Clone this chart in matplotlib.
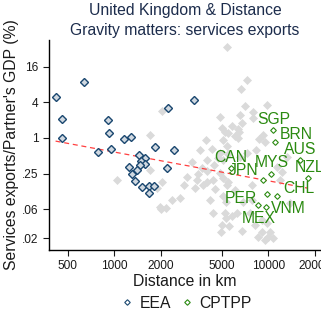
import numpy as np
import matplotlib
matplotlib.use("Agg")
import matplotlib.pyplot as plt
from matplotlib.lines import Line2D

plt.rcParams['font.family'] = ['Liberation Sans', 'DejaVu Sans']

# EEA partners: distance (km), services exports / partner GDP (%)
eea_dist = [416, 632, 461, 461, 906, 920, 1151, 1278, 781, 949,
            1443, 1575, 1484, 1589, 1468, 1246, 1398, 1299, 1359, 1513,
            1675, 1810, 1680, 2188, 2431, 1838, 2225, 3268]
eea_val = [5.0, 8.9, 2.11, 1.01, 2.03, 1.23, 0.97, 1.045, 0.568, 0.65,
           0.505, 0.453, 0.403, 0.366, 0.349, 0.327, 0.289, 0.249, 0.184, 0.150,
           0.156, 0.156, 0.119, 0.314, 0.63, 0.711, 3.22, 4.46]

# CPTPP partners
cptpp_names = ['SGP', 'BRN', 'AUS', 'NZL', 'CAN', 'MYS', 'JPN', 'PER', 'CHL', 'MEX', 'VNM']
cptpp_dist = [10780, 11050, 16020, 18050, 5730, 10350, 9200, 9760, 11350, 8550, 9720]
cptpp_val = [1.38, 0.864, 0.419, 0.212, 0.316, 0.249, 0.191, 0.111, 0.103, 0.0736, 0.0668]

# all other partners
other_dist = [5370, 7240, 6620, 9760, 7058, 7990, 6580, 7920, 4857, 5790,
              6720, 4980, 5234, 6330, 6450, 5500, 9200, 3920, 5100, 6380,
              8700, 9516, 2055, 1706, 6078, 5370, 3602, 4290, 4857, 8320,
              7240, 6549, 5500, 4730, 5100, 3980, 3180, 4440, 3700, 3980,
              4857, 3510, 2980, 3430, 4390, 5370, 2835, 3780, 7800, 3342,
              4507, 6078, 4183, 2671, 5310, 6880, 7800, 4390, 5234, 6240,
              7605, 5790, 9060, 9760, 8195, 4980, 9060, 10255, 8610, 9990,
              9516, 13170, 11340, 11908, 13828, 12220, 1036, 1700, 2040, 1895,
              1981, 2010, 2180, 2360, 3980, 5100, 5500, 5100, 5310, 5560,
              4930, 6720, 10770]
other_val = [34.0, 9.52, 6.7, 3.64, 3.50, 2.77, 2.44, 2.15, 2.23, 1.61,
             1.77, 1.455, 1.275, 1.40, 1.26, 1.19, 1.12, 0.912, 0.912, 0.985,
             0.95, 0.86, 2.88, 1.14, 1.08, 0.73, 0.626, 0.643, 0.55, 0.626,
             0.55, 0.482, 0.535, 0.453, 0.424, 0.424, 0.397, 0.349, 0.307, 0.276,
             0.259, 0.246, 0.222, 0.195, 0.195, 0.160, 0.160, 0.160, 0.160, 0.141,
             0.136, 0.132, 0.091, 0.095, 0.084, 0.084, 0.0894, 0.053, 0.053, 0.053,
             0.053, 0.047, 0.0411, 0.0362, 0.0338, 0.0338, 0.026, 0.026, 0.0215, 0.0215,
             0.0189, 0.482, 0.327, 0.195, 0.079, 0.268, 0.195, 0.29, 0.183, 0.141,
             0.069, 0.063, 0.066, 0.0877, 0.178, 0.209, 0.182, 0.106, 0.044, 0.0329,
             0.0254, 0.0267, 0.0202]

# fitted line (log-log): value at 1000 km and elasticity
fit_at_1000 = 0.577
fit_slope = -0.486

xticks = [500, 1000, 2000, 5000, 10000, 20000]
yticks = [16, 4, 1, 0.25, 0.0625, 0.02]
ytick_labels = ['16', '4', '1', '.25', '.06', '.02']

# label placement for the CPTPP names: (dx px, dy px, ha)
label_pos = {'SGP': (0, -10.5, 'center'), 'BRN': (5, -7.5, 'left'),
             'AUS': (0.7, -10.3, 'center'), 'NZL': (2, -10, 'center'),
             'CAN': (0, -10.5, 'center'), 'MYS': (1, -11, 'center'),
             'JPN': (-4, -9.7, 'right'), 'PER': (-10, 3.8, 'right'),
             'CHL': (6.5, -8, 'left'), 'MEX': (0.9, 13.3, 'center'),
             'VNM': (4.2, 0.8, 'left')}

navy = '#1a476f'
green = '#2a8a10'
txt = '#1a1a1a'

fig = plt.figure(figsize=(3.21, 3.21), dpi=100)
ax = fig.add_axes([49/321, 1-249.7/321, 1-49/321, (249.7-40)/321])

ax.plot(other_dist, other_val, linestyle='none', marker='D', markersize=3.9,
        markerfacecolor='#dadada', markeredgecolor='#dadada', markeredgewidth=0.5, zorder=1)

all_d = np.array(eea_dist + cptpp_dist + other_dist, dtype=float)
xs = np.geomspace(all_d.min(), all_d.max(), 50)
ax.plot(xs, fit_at_1000 * (xs / 1000) ** fit_slope, color='#ff4040', linewidth=0.9,
        dashes=(4, 3), zorder=2)

ax.plot(eea_dist, eea_val, linestyle='none', marker='D', markersize=3.7,
        markerfacecolor='#d0d8e0', markeredgecolor=navy, markeredgewidth=1.0, zorder=3)
ax.plot(cptpp_dist, cptpp_val, linestyle='none', marker='D', markersize=2.9,
        markerfacecolor='white', markeredgecolor=green, markeredgewidth=0.8, zorder=4)

for name, d, v in zip(cptpp_names, cptpp_dist, cptpp_val):
    dx, dy, ha = label_pos[name]
    ax.annotate(name, (d, v), xytext=(dx * 0.72, -dy * 0.72), textcoords='offset points',
                ha=ha, va='center', fontsize=11.3, color=green, zorder=5)

ax.set_xscale('log')
ax.set_yscale('log')
ax.set_xlim(377, 21970)
ax.set_ylim(0.0129, 45.2)
ax.set_xticks(xticks)
ax.set_xticklabels([str(t) for t in xticks])
ax.set_yticks(yticks)
ax.set_yticklabels(ytick_labels)
ax.minorticks_off()
ax.tick_params(labelsize=8.6, colors=txt, length=4, width=0.8)
for s in ['top', 'right']:
    ax.spines[s].set_visible(False)
for s in ['left', 'bottom']:
    ax.spines[s].set_linewidth(1.0)
    ax.spines[s].set_color('black')

ax.set_xlabel('Distance in km', fontsize=11.3, color=txt, labelpad=1)
ax.set_ylabel("Services exports/Partner's GDP (%)", fontsize=11.3, color=txt, labelpad=2)

fig.text(185/321, 1-10/321, 'United Kingdom & Distance', ha='center', va='center',
         fontsize=11.3, color='#1c2c4c')
fig.text(185/321, 1-30/321, 'Gravity matters: services exports', ha='center', va='center',
         fontsize=11.3, color='#1c2c4c')

handles = [Line2D([], [], linestyle='none', marker='D', markersize=2.8, markerfacecolor='white',
                  markeredgecolor=navy, markeredgewidth=0.8),
           Line2D([], [], linestyle='none', marker='D', markersize=2.8, markerfacecolor='white',
                  markeredgecolor=green, markeredgewidth=0.8)]
fig.legend(handles, ['EEA', 'CPTPP'], loc='center', bbox_to_anchor=(186/321, 1-303/321),
           ncol=2, frameon=False, fontsize=11.3, handlelength=0.8, handletextpad=0.4,
           columnspacing=0.6, labelcolor=txt)

fig.savefig('out.png', dpi=100, facecolor='white')
